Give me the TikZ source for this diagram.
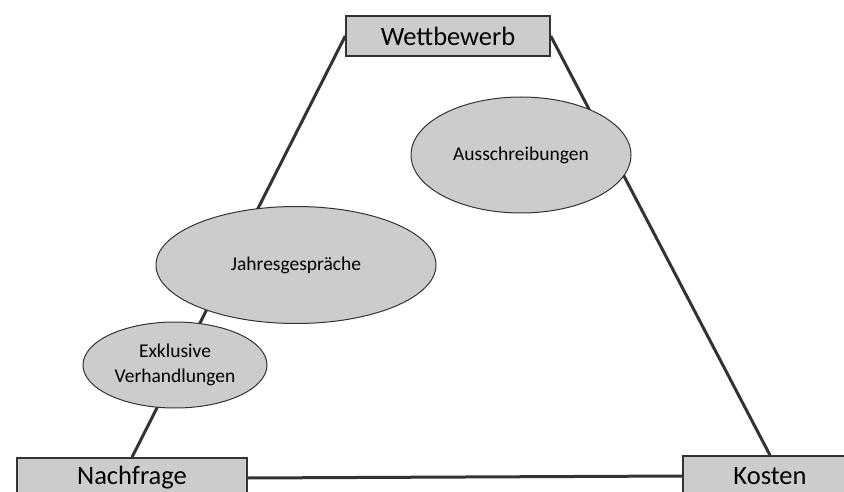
\documentclass[tikz,border=0pt]{standalone}
\usepackage{fontspec}
\setmainfont{Carlito}
\usetikzlibrary{shapes.geometric}
\definecolor{boxgray}{HTML}{CCCCCC}
\definecolor{edgegray}{HTML}{333333}
\begin{document}
\begin{tikzpicture}[
  x=1pt, y=-1pt,
  corner/.style={draw=edgegray, line width=1.5pt, fill=boxgray, minimum height=40pt, inner sep=0pt, font=\fontsize{26.5}{28}\selectfont},
  oval/.style={ellipse, draw=edgegray, line width=1pt, fill=boxgray, inner sep=0pt, align=center, font=\fontsize{19.5}{25}\selectfont},
  link/.style={draw=edgegray, line width=3pt}
]
\useasboundingbox (0,0) rectangle (844,492);
\clip (0,0) rectangle (844,492);
% corners of the triangle
\node[corner, minimum width=204pt] (wett) at (448,36) {Wettbewerb};
\node[corner, minimum width=230pt] (nach) at (132,478) {Nachfrage};
\node[corner, minimum width=174pt] (kost) at (770,476) {Kosten};

\draw[link] (wett.west) -- (nach.north);
\draw[link] (wett.east) -- (kost.north);
\draw[link] (nach.east) -- (kost.west);

% procurement types
\node[oval, minimum width=220pt, minimum height=116pt] (aus) at (521,155) {Ausschreibungen};
\node[oval, minimum width=280pt, minimum height=117pt] (jahr) at (296,265) {Jahresgespräche};
\node[oval, minimum width=184pt, minimum height=86pt] (exkl) at (175,365) {Exklusive\\Verhandlungen};
\end{tikzpicture}
\end{document}
